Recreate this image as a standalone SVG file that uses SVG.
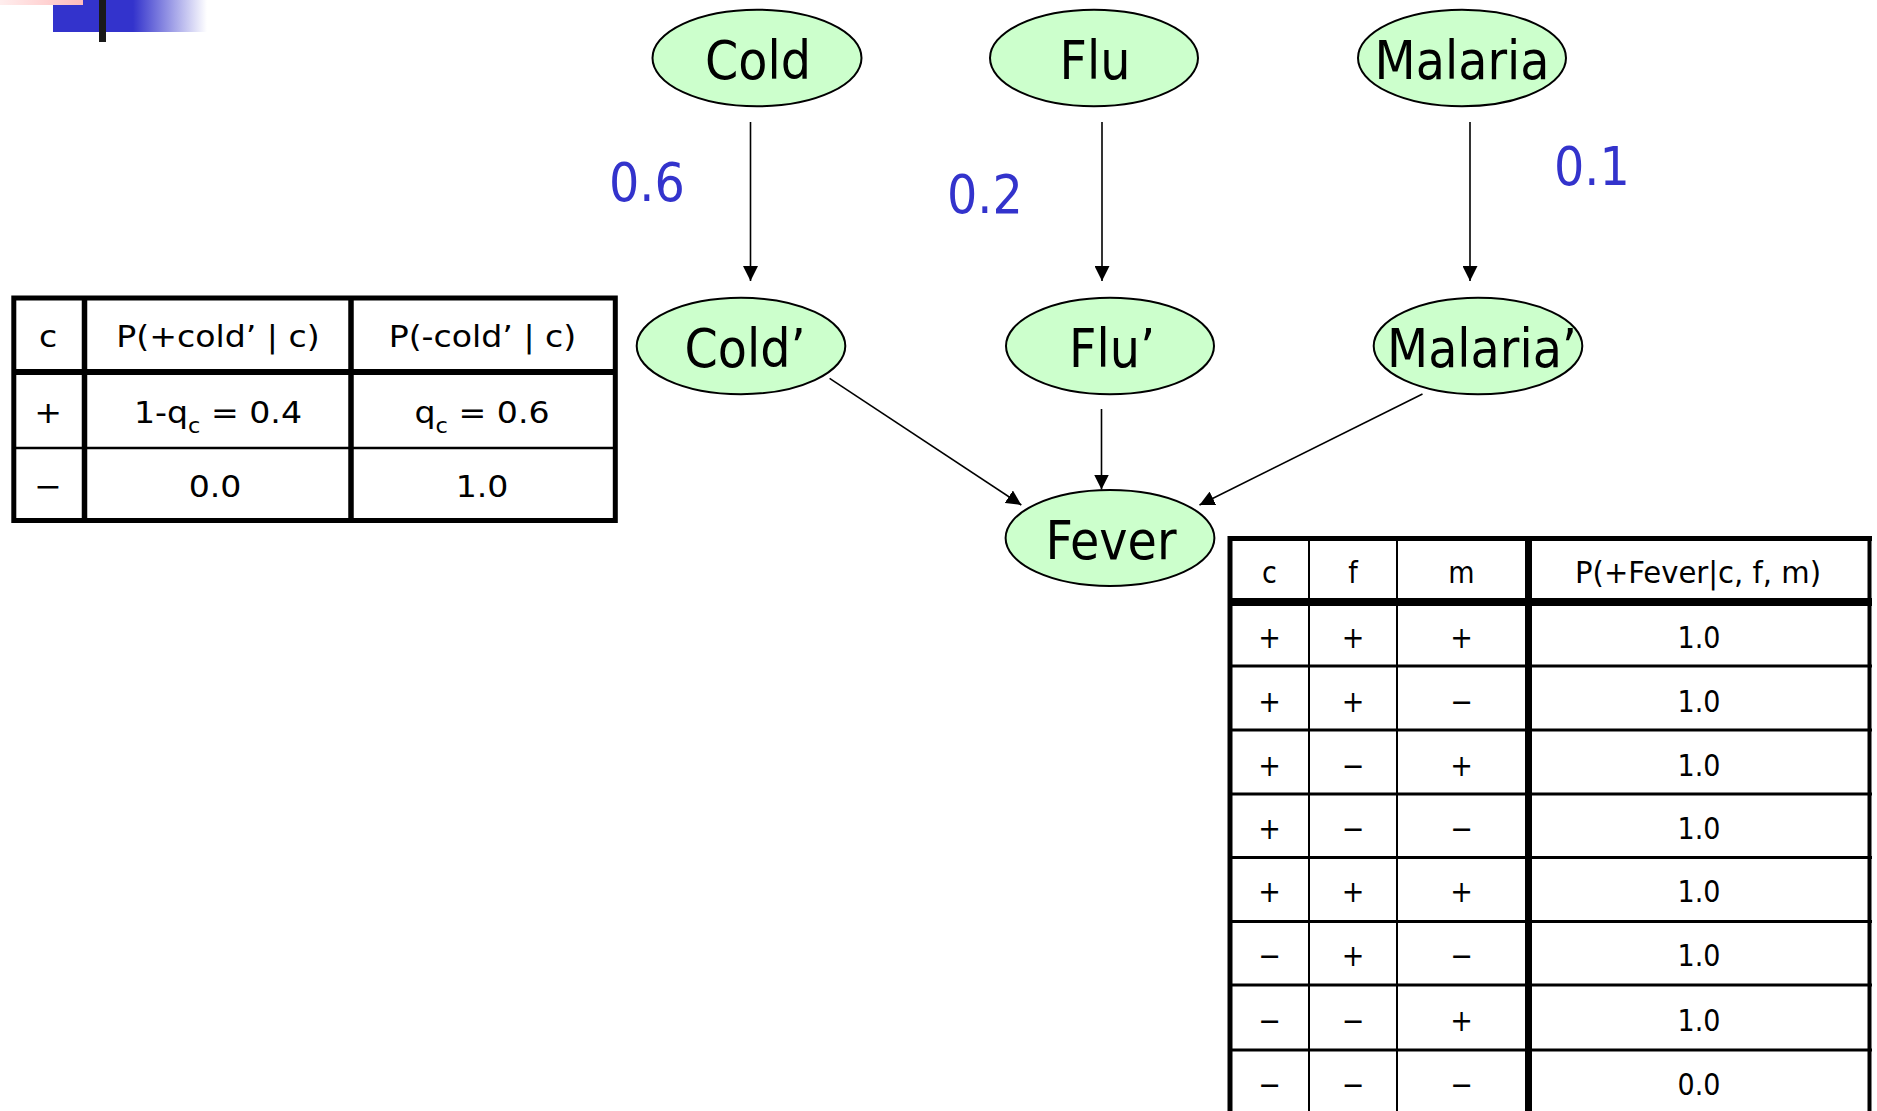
<svg xmlns="http://www.w3.org/2000/svg" width="1877" height="1111" viewBox="0 0 1877 1111">
  <style>
    .node ellipse { fill: #ccffcc; stroke: #000; stroke-width: 2; }
    .lbl { font-family: "DejaVu Sans Condensed", "DejaVu Sans", sans-serif; font-stretch: condensed; font-size: 53px; fill: #000; text-anchor: middle; }
    .prob { font-family: "DejaVu Sans Condensed", "DejaVu Sans", sans-serif; font-stretch: condensed; font-size: 53px; fill: #3333cc; }
    .cell { font-family: "DejaVu Sans Condensed", "DejaVu Sans", sans-serif; font-stretch: condensed; font-size: 30px; fill: #000; text-anchor: middle; }
    .wide { font-family: "DejaVu Sans", sans-serif; font-size: 31px; fill: #000; text-anchor: middle; }
    .edge { stroke: #000; stroke-width: 1.6; fill: none; marker-end: url(#arrow); }
    .grid { stroke: #000; fill: none; }
  </style>
  <defs>
    <marker id="arrow" viewBox="0 0 15 15" refX="15" refY="7.5" markerWidth="15" markerHeight="15" markerUnits="userSpaceOnUse" orient="auto">
      <path d="M0,0 L15,7.5 L0,15 z" fill="#000"/>
    </marker>
    <linearGradient id="blueFade" x1="0" y1="0" x2="1" y2="0">
      <stop offset="0" stop-color="#3333cc"/>
      <stop offset="0.52" stop-color="#3333cc"/>
      <stop offset="1" stop-color="#ffffff"/>
    </linearGradient>
    <linearGradient id="pinkFade" x1="0" y1="0" x2="1" y2="0">
      <stop offset="0" stop-color="#ffeeee"/>
      <stop offset="1" stop-color="#ffbcbc"/>
    </linearGradient>
  </defs>

  <rect width="1877" height="1111" fill="#fff"/>

  <!-- corner ornament -->
  <g id="ornament">
    <rect x="53" y="0" width="154" height="32" fill="url(#blueFade)"/>
    <rect x="0" y="0" width="83" height="5" fill="url(#pinkFade)"/>
    <rect x="99" y="0" width="7" height="42" fill="#1a1a1a"/>
  </g>

  <!-- connectors -->
  <g id="edges">
    <line class="edge" x1="750.5" y1="122" x2="750.5" y2="281"/>
    <line class="edge" x1="1102" y1="122" x2="1102" y2="281"/>
    <line class="edge" x1="1470" y1="122" x2="1470" y2="281"/>
    <line class="edge" x1="829.6" y1="378.3" x2="1021.3" y2="505"/>
    <line class="edge" x1="1101.5" y1="409" x2="1101.5" y2="489.5"/>
    <line class="edge" x1="1422.5" y1="394" x2="1199.5" y2="505"/>
  </g>

  <!-- edge probabilities -->
  <g id="edge-labels">
    <text class="prob" x="609" y="201">0.6</text>
    <text class="prob" x="947" y="213">0.2</text>
    <text class="prob" x="1554" y="185">0.1</text>
  </g>

  <!-- nodes -->
  <g id="cold" class="node"><ellipse cx="757" cy="58" rx="104.5" ry="48.3"/><text class="lbl" x="758" y="79">Cold</text></g>
  <g id="flu" class="node"><ellipse cx="1094" cy="58" rx="104" ry="48.3"/><text class="lbl" x="1095" y="79">Flu</text></g>
  <g id="malaria" class="node"><ellipse cx="1462" cy="58" rx="104" ry="48.3"/><text class="lbl" x="1462" y="79">Malaria</text></g>
  <g id="cold-prime" class="node"><ellipse cx="741" cy="346" rx="104.3" ry="48.2"/><text class="lbl" x="745" y="367">Cold’</text></g>
  <g id="flu-prime" class="node"><ellipse cx="1110" cy="346" rx="104" ry="48.2"/><text class="lbl" x="1112" y="367">Flu’</text></g>
  <g id="malaria-prime" class="node"><ellipse cx="1478" cy="346" rx="104.3" ry="48.2"/><text class="lbl" x="1482" y="367">Malaria’</text></g>
  <g id="fever" class="node"><ellipse cx="1110" cy="538" rx="104.4" ry="48"/><text class="lbl" x="1111" y="559">Fever</text></g>

  <!-- CPT for Cold' -->
  <g id="cold-prime-table">
    <rect class="grid" x="13.8" y="298" width="601.5" height="222.5" stroke-width="5"/>
    <line class="grid" x1="84.5" y1="298" x2="84.5" y2="520" stroke-width="5.5"/>
    <line class="grid" x1="351" y1="298" x2="351" y2="520" stroke-width="5.5"/>
    <line class="grid" x1="13" y1="372" x2="615" y2="372" stroke-width="6"/>
    <line class="grid" x1="13" y1="448" x2="615" y2="448" stroke-width="2.7"/>
    <!-- wide table lettering: glyphs stretched horizontally -->
    <g transform="scale(1.07 1)">
      <text class="wide" x="45" y="347">c</text>
      <text class="wide" x="203.7" y="347">P(+cold’ | c)</text>
      <text class="wide" x="450.9" y="347">P(-cold’ | c)</text>
      <text class="wide" x="45" y="423">+</text>
      <text class="wide" x="203.7" y="423">1-q<tspan font-size="21" dy="10">c</tspan><tspan dy="-10"> = 0.4</tspan></text>
      <text class="wide" x="450.5" y="423">q<tspan font-size="21" dy="10">c</tspan><tspan dy="-10"> = 0.6</tspan></text>
      <text class="wide" x="45" y="497">−</text>
      <text class="wide" x="201" y="497">0.0</text>
      <text class="wide" x="450.5" y="497">1.0</text>
    </g>
  </g>

  <!-- CPT for Fever -->
  <g id="fever-table">
    <line class="grid" x1="1230" y1="536" x2="1230" y2="1111" stroke-width="5"/>
    <line class="grid" x1="1869.5" y1="536" x2="1869.5" y2="1111" stroke-width="4"/>
    <line class="grid" x1="1228" y1="538.4" x2="1872" y2="538.4" stroke-width="5"/>
    <line class="grid" x1="1309" y1="538" x2="1309" y2="1111" stroke-width="2"/>
    <line class="grid" x1="1397" y1="538" x2="1397" y2="1111" stroke-width="2"/>
    <line class="grid" x1="1528.5" y1="538" x2="1528.5" y2="1111" stroke-width="7"/>
    <line class="grid" x1="1228" y1="602" x2="1872" y2="602" stroke-width="8"/>
    <line class="grid" x1="1228" y1="666" x2="1872" y2="666" stroke-width="3"/>
    <line class="grid" x1="1228" y1="730" x2="1872" y2="730" stroke-width="3"/>
    <line class="grid" x1="1228" y1="794" x2="1872" y2="794" stroke-width="3"/>
    <line class="grid" x1="1228" y1="857.5" x2="1872" y2="857.5" stroke-width="3"/>
    <line class="grid" x1="1228" y1="921.5" x2="1872" y2="921.5" stroke-width="3"/>
    <line class="grid" x1="1228" y1="985" x2="1872" y2="985" stroke-width="3"/>
    <line class="grid" x1="1228" y1="1050" x2="1872" y2="1050" stroke-width="3"/>

    <text class="cell" x="1269.5" y="583">c</text>
    <text class="cell" x="1353" y="583">f</text>
    <text class="cell" x="1461.5" y="583">m</text>
    <text class="cell" x="1698" y="583" textLength="246" lengthAdjust="spacingAndGlyphs">P(+Fever|c, f, m)</text>

    <g>
      <text class="cell" x="1269.5" y="648">+</text><text class="cell" x="1353" y="648">+</text><text class="cell" x="1461.5" y="648">+</text><text class="cell" x="1699" y="648">1.0</text>
      <text class="cell" x="1269.5" y="712">+</text><text class="cell" x="1353" y="712">+</text><text class="cell" x="1461.5" y="712">−</text><text class="cell" x="1699" y="712">1.0</text>
      <text class="cell" x="1269.5" y="776">+</text><text class="cell" x="1353" y="776">−</text><text class="cell" x="1461.5" y="776">+</text><text class="cell" x="1699" y="776">1.0</text>
      <text class="cell" x="1269.5" y="839">+</text><text class="cell" x="1353" y="839">−</text><text class="cell" x="1461.5" y="839">−</text><text class="cell" x="1699" y="839">1.0</text>
      <text class="cell" x="1269.5" y="902">+</text><text class="cell" x="1353" y="902">+</text><text class="cell" x="1461.5" y="902">+</text><text class="cell" x="1699" y="902">1.0</text>
      <text class="cell" x="1269.5" y="966">−</text><text class="cell" x="1353" y="966">+</text><text class="cell" x="1461.5" y="966">−</text><text class="cell" x="1699" y="966">1.0</text>
      <text class="cell" x="1269.5" y="1031">−</text><text class="cell" x="1353" y="1031">−</text><text class="cell" x="1461.5" y="1031">+</text><text class="cell" x="1699" y="1031">1.0</text>
      <text class="cell" x="1269.5" y="1095">−</text><text class="cell" x="1353" y="1095">−</text><text class="cell" x="1461.5" y="1095">−</text><text class="cell" x="1699" y="1095">0.0</text>
    </g>
  </g>
</svg>
